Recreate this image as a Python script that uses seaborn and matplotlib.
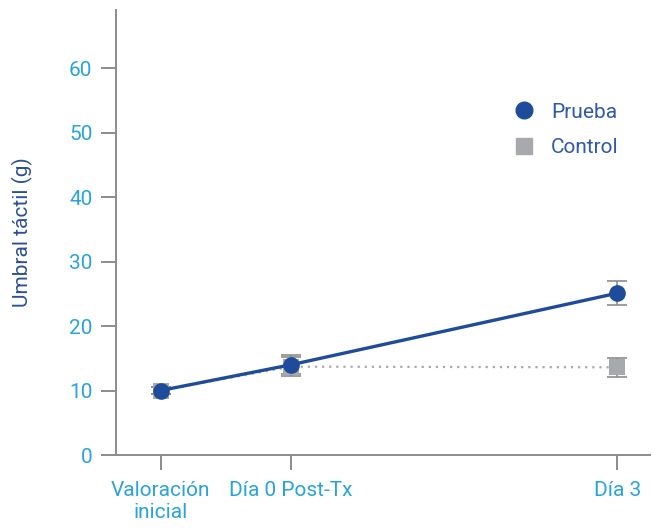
import matplotlib
matplotlib.use("Agg")
import matplotlib.pyplot as plt
from matplotlib.lines import Line2D
import pandas as pd
import seaborn as sns

# -----------------------------
# Data
# -----------------------------
dias = [-1.2, 0, 3]
etiquetas = ["Valoración\ninicial", "Día 0 Post-Tx", "Día 3"]
prueba = [10.0, 14.0, 25.1]
prueba_err = [0.6, 1.5, 1.9]
control = [10.0, 13.7, 13.6]
control_err = [0.6, 1.5, 1.5]

df = pd.DataFrame({
    "dia": dias * 2,
    "umbral": prueba + control,
    "grupo": ["Prueba"] * 3 + ["Control"] * 3,
})

AZUL = "#1f4c9a"
GRIS = "#a7a9ac"
CELESTE = "#29a3dd"
EJE = "#8c8c8f"

sns.set_style("white")
plt.rcParams["font.family"] = ["Roboto", "DejaVu Sans"]

fig = plt.figure(figsize=(6.52, 5.30), dpi=100)
ax = fig.add_axes([0.178, 0.1415, 0.819, 0.8395])

# error bars first (behind markers)
ax.errorbar(dias, control, yerr=control_err, fmt="none", ecolor=EJE,
            elinewidth=1.2, capsize=7, capthick=1.2, zorder=1)
ax.errorbar(dias, prueba, yerr=prueba_err, fmt="none", ecolor=EJE,
            elinewidth=1.2, capsize=7, capthick=1.2, zorder=1)

sns.lineplot(data=df[df.grupo == "Control"], x="dia", y="umbral", ax=ax,
             color=GRIS, linestyle=(0, (1, 2.2)), linewidth=1.6,
             marker="s", markersize=11, markeredgewidth=0, zorder=2,
             legend=False)
sns.lineplot(data=df[df.grupo == "Prueba"], x="dia", y="umbral", ax=ax,
             color=AZUL, linewidth=2.4, marker="o", markersize=12,
             markeredgewidth=0, zorder=3, legend=False)

ax.set_xlim(-1.61, 3.30)
ax.set_ylim(0, 69)
ax.set_yticks([0, 10, 20, 30, 40, 50, 60])
ax.set_xticks(dias)
ax.set_xticklabels(etiquetas)
ax.set_xlabel("")
ax.set_ylabel("Umbral táctil (g)", color="#2a4f98", fontsize=15,
              labelpad=26)

for side in ["top", "right"]:
    ax.spines[side].set_visible(False)
for side in ["left", "bottom"]:
    ax.spines[side].set_color(EJE)
    ax.spines[side].set_linewidth(1.4)

ax.tick_params(axis="both", direction="out", length=11, width=1.4,
               color=EJE, labelcolor=CELESTE, labelsize=15,
               bottom=True, left=True)
ax.tick_params(axis="x", pad=8)
ax.tick_params(axis="y", pad=6)

handles = [
    Line2D([], [], marker="o", color=AZUL, linestyle="none", markersize=12),
    Line2D([], [], marker="s", color=GRIS, linestyle="none", markersize=11),
]
leg = ax.legend(handles, ["Prueba", "Control"], frameon=False, fontsize=15,
                loc="upper left", bbox_to_anchor=(0.69, 0.834),
                handletextpad=0.3, labelspacing=0.8)
for t in leg.get_texts():
    t.set_color("#2f5aa8")

fig.savefig("out.png", dpi=100)
